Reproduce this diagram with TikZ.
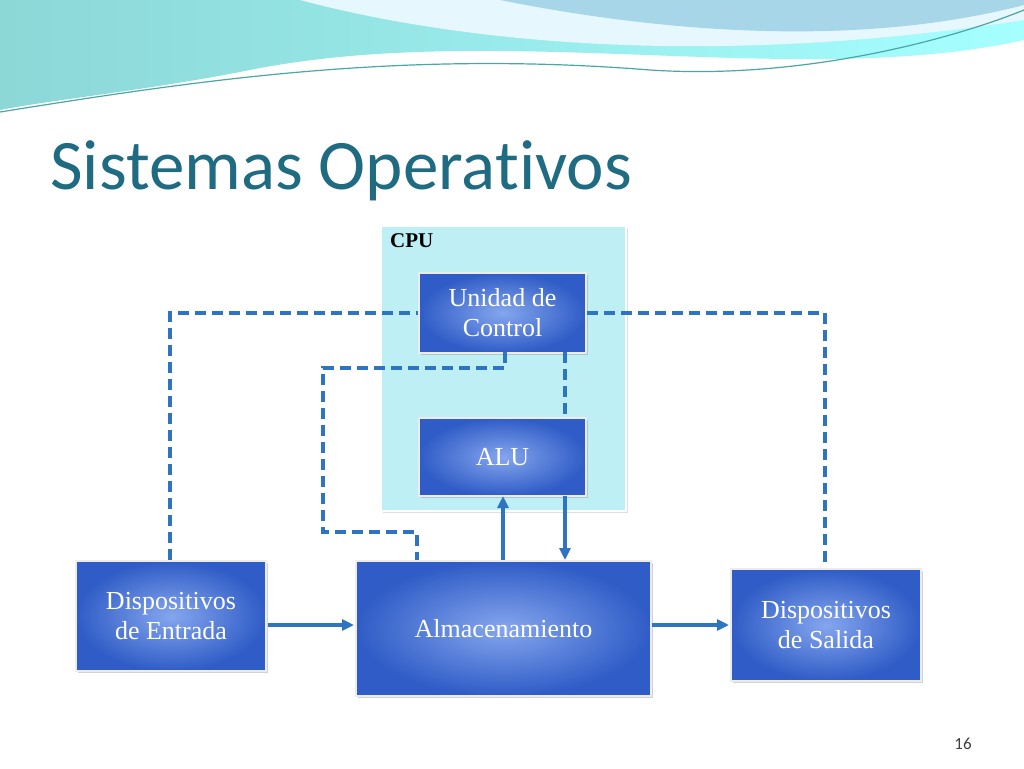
\documentclass[tikz,border=0pt]{standalone}
\usepackage{fontspec}
\setmainfont{Liberation Serif}
\newfontfamily\titlefont[Ligatures=NoCommon]{Carlito}
\usetikzlibrary{arrows.meta,shadows}
\definecolor{titlec}{HTML}{1F6B82}
\definecolor{cpubg}{HTML}{BDEFF5}
\definecolor{boxdark}{HTML}{2F5CC6}
\definecolor{boxlight}{HTML}{85A6EE}
\definecolor{linec}{HTML}{2F74C0}
\tikzset{
  bluebox/.style={draw=white!85!gray, line width=2pt, inner color=boxlight, outer color=boxdark,
    text=white, font=\fontsize{26}{30}\selectfont, align=center, drop shadow={opacity=0.35}},
  dashline/.style={linec, line width=3.2pt, dash pattern=on 11pt off 6pt},
  arr/.style={linec, line width=3.2pt, -{Triangle[length=12pt,width=11pt]}}
}
\begin{document}
\begin{tikzpicture}[x=1pt,y=-1pt]
\useasboundingbox (0,0) rectangle (1024,768);
\fill[white] (0,0) rectangle (1024,768);
% header waves
\shade[left color=cyan!30!teal!45!white, right color=cyan!35!white] (0,0) -- (1024,0) -- (1024,40) .. controls (800,90) and (500,20) .. (250,70) .. controls (150,90) and (50,100) .. (0,110) -- cycle;
\fill[cyan!10!white] (300,0) .. controls (450,40) and (700,70) .. (1024,20) -- (1024,0) -- cycle;
\fill[cyan!55!teal!45!white, opacity=0.8] (500,0) .. controls (650,30) and (850,50) .. (1024,5) -- (1024,0) -- cycle;
\draw[teal!70!white, line width=1.2pt] (0,112) .. controls (200,80) and (400,50) .. (650,70) .. controls (800,80) and (950,40) .. (1024,10);
\node[anchor=base west, text=titlec, font=\titlefont\fontsize{71}{78}\selectfont, inner sep=0] (title) at (50,189) {Sistemas Operativos};
% CPU
\node[draw=white, line width=2pt, fill=cpubg, minimum width=245pt, minimum height=285pt, anchor=north west, drop shadow={opacity=0.25}] (cpu) at (380,225) {};
\node[anchor=north west, font=\bfseries\fontsize{21}{24}\selectfont, inner sep=0] (cpul) at (390,233) {CPU};
\node[bluebox, minimum width=167pt, minimum height=80pt, anchor=north west] (uc) at (418,272) {Unidad de\\Control};
\node[bluebox, minimum width=167pt, minimum height=78pt, anchor=north west] (alu) at (418,417) {ALU};
\node[bluebox, minimum width=295pt, minimum height=135pt, anchor=north west] (alm) at (355,560) {Almacenamiento};
\node[bluebox, minimum width=190pt, minimum height=110pt, anchor=north west] (ent) at (75,560) {Dispositivos\\de Entrada};
\node[bluebox, minimum width=190pt, minimum height=112pt, anchor=north west] (sal) at (730,568) {Dispositivos\\de Salida};
% dashed
\draw[dashline] (170,560) -- (170,313) -- (uc.west |- 0,313);
\draw[dashline] (uc.east |- 0,313) -- (825,313) -- (825,568);
\draw[dashline] (505,352) -- (505,368) -- (323,368) -- (323,532) -- (417,532) -- (417,560);
\draw[dashline] (565,352) -- (565,417);
% arrows
\draw[arr] (503,560) -- (503,496);
\draw[arr] (565,496) -- (565,560);
\draw[arr] (268,625) -- (354,625);
\draw[arr] (652,625) -- (729,625);
\node[font=\titlefont\fontsize{17}{20}\selectfont, text=black!75] (pg) at (963,744) {16};
\end{tikzpicture}
\end{document}
